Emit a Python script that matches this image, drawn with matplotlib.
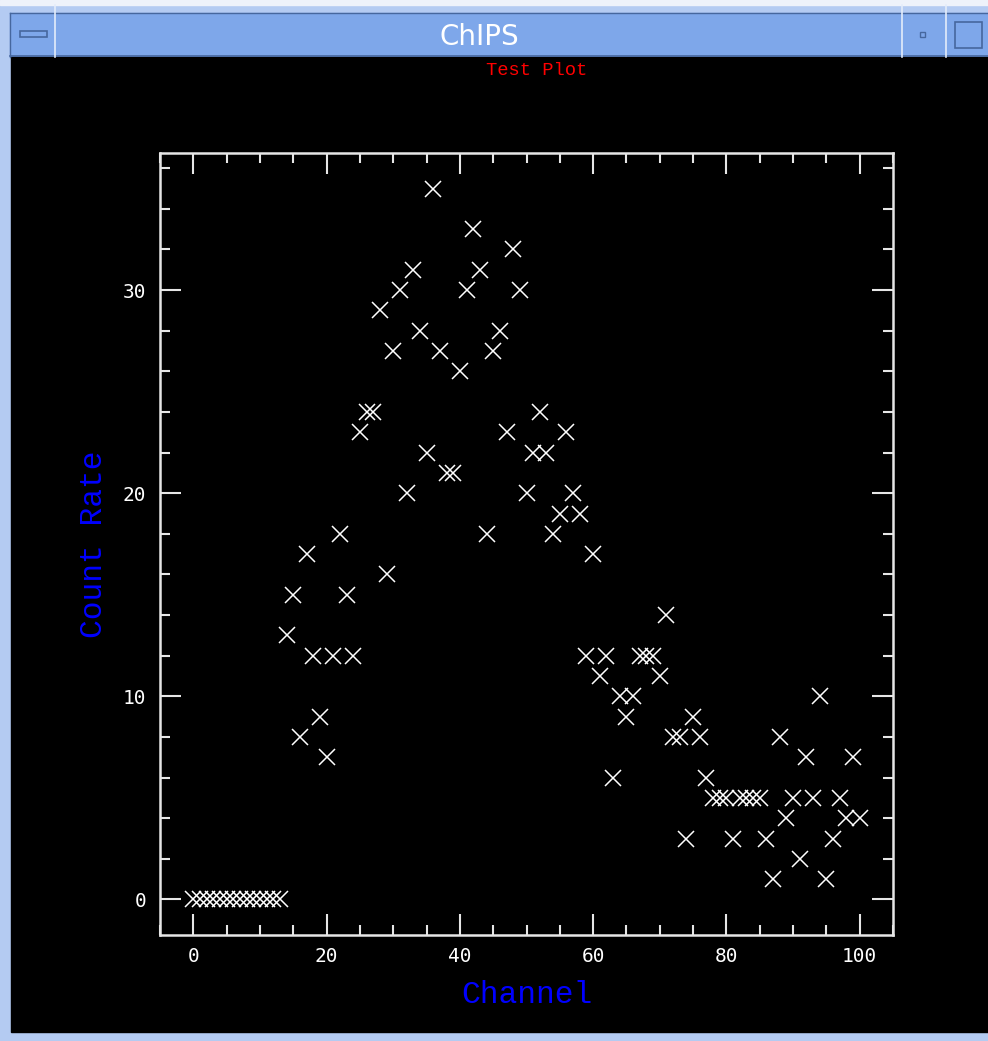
import matplotlib
matplotlib.use("Agg")
import matplotlib.pyplot as plt
from matplotlib.patches import Rectangle
from matplotlib.ticker import MultipleLocator

# channel / count rate data
channel = list(range(0, 101))
count_rate = [
    0, 0, 0, 0, 0, 0, 0, 0, 0, 0, 0, 0, 0, 0,
    13, 15, 8, 17, 12, 9, 7, 12, 18, 15, 12, 23, 24, 24, 29, 16,
    27, 30, 20, 31, 28, 22, 35, 27, 21, 21, 26, 30, 33, 31, 18, 27,
    28, 23, 32, 30, 20, 22, 24, 22, 18, 19, 23, 20, 19, 12, 17, 11,
    12, 6, 10, 9, 10, 12, 12, 12, 11, 14, 8, 8, 3, 9, 8, 6,
    5, 5, 5, 3, 5, 5, 5, 5, 3, 1, 8, 4, 5, 2, 7, 5,
    10, 1, 3, 5, 4, 7, 4,
]
x_ticks = [0, 20, 40, 60, 80, 100]
y_ticks = [0, 10, 20, 30]

W, H = 988, 1041
fig = plt.figure(figsize=(W / 100, H / 100), dpi=100)

# window chrome drawn in pixel coordinates
bg = fig.add_axes([0, 0, 1, 1])
bg.set_xlim(0, W)
bg.set_ylim(H, 0)
bg.axis("off")

light = "#b4cbf2"
blue = "#7ea7ea"
dark = "#46679e"
bg.add_patch(Rectangle((0, 0), W, H, color=light))
bg.add_patch(Rectangle((0, 0), W, 5, color="#eef2fa"))
bg.add_patch(Rectangle((10, 13), W - 10, 44, color=blue))
bg.plot([10, W], [13, 13], color=dark, lw=1)
bg.plot([10, W], [56, 56], color=dark, lw=1.2)
bg.plot([10, 10], [13, 57], color=dark, lw=1)
for sx in [55, 902, 946]:
    bg.plot([sx, sx], [5, 57], color="#e4ecfa", lw=1.2)
bg.add_patch(Rectangle((20, 31), 27, 6, facecolor=blue, edgecolor=dark, lw=1.2))
bg.add_patch(Rectangle((920, 32), 5, 5, facecolor=blue, edgecolor=dark, lw=1))
bg.add_patch(Rectangle((955, 22), 27, 26, facecolor=blue, edgecolor=dark, lw=1.2))
bg.add_patch(Rectangle((11, 57), W - 11, 975, color="black"))
bg.text(479, 37, "ChIPS", color="white", fontsize=20, family="DejaVu Sans",
        ha="center", va="center")

fig.text(537 / W, 1 - 71 / H, "Test Plot", color="red", fontsize=13.5,
         family="Liberation Mono", ha="center", va="center")

# plot area
ax = fig.add_axes([160 / W, 1 - 935 / H, 733 / W, 782 / H])
ax.set_facecolor("black")
ax.plot(channel, count_rate, linestyle="none", marker="x", color="white",
        markersize=12, markeredgewidth=1.1)

ax.set_xlim(-5, 105)
ax.set_ylim(-1.75, 36.75)
ax.set_xticks(x_ticks)
ax.set_yticks(y_ticks)
ax.xaxis.set_minor_locator(MultipleLocator(5))
ax.yaxis.set_minor_locator(MultipleLocator(2))
ax.tick_params(which="both", direction="in", top=True, right=True,
               color="#e6e6e6", width=1.5, labelcolor="white", labelsize=14)
ax.tick_params(which="major", length=15)
ax.tick_params(which="minor", length=7)
ax.tick_params(axis="x", which="major", pad=9)
ax.tick_params(axis="y", which="major", pad=10)
for lab in ax.get_xticklabels() + ax.get_yticklabels():
    lab.set_family("DejaVu Sans Mono")
for s in ax.spines.values():
    s.set_color("#e6e6e6")
    s.set_linewidth(1.8)

ax.set_xlabel("Channel", color="blue", fontsize=22.5, family="Liberation Mono",
              labelpad=10)
ax.set_ylabel("Count Rate", color="blue", fontsize=22.5, family="Liberation Mono",
              labelpad=10)

fig.savefig("out.png", dpi=100, facecolor=light)
